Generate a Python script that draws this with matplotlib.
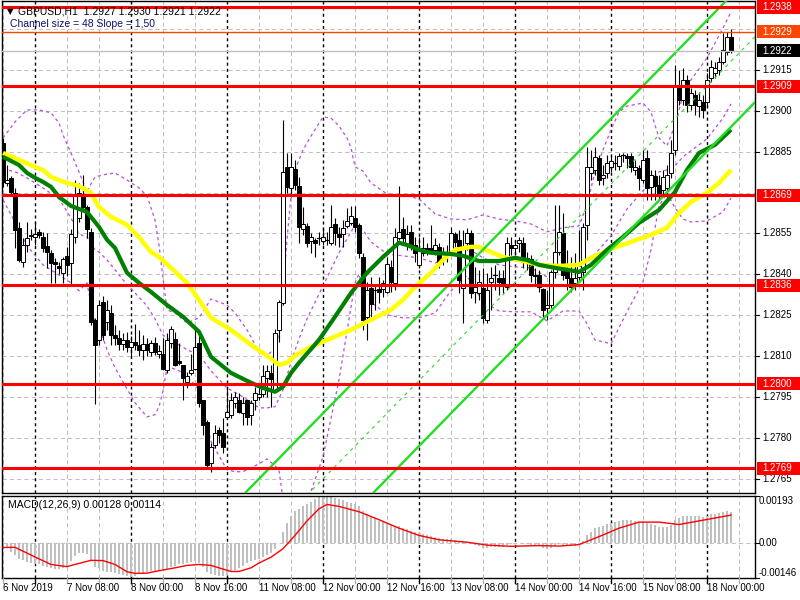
import numpy as np
import matplotlib.pyplot as plt
import matplotlib.transforms as mtransforms
from matplotlib.patches import Rectangle
from matplotlib.lines import Line2D

plt.rcParams['font.family'] = ['Liberation Sans', 'DejaVu Sans']

# ---- candles GBPUSD H1, bar 0 = 6 Nov 16:00 ----
opens = [
    1.28882, 1.28735, 1.28754, 1.28699, 1.28571, 1.28446, 1.28508, 1.28541, 1.28537, 1.28556,
    1.28537, 1.28505, 1.28479, 1.28446, 1.28431, 1.28406, 1.28468, 1.28442, 1.28537, 1.28607,
    1.28691, 1.28647, 1.28556, 1.28234, 1.28160, 1.28300, 1.28226, 1.28259, 1.28178, 1.28168,
    1.28146, 1.28160, 1.28135, 1.28153, 1.28142, 1.28124, 1.28146, 1.28116, 1.28149, 1.28109,
    1.28109, 1.28050, 1.28149, 1.28164, 1.28083, 1.28069, 1.28006, 1.28039, 1.28054, 1.28149,
    1.27941, 1.27860, 1.27710, 1.27776, 1.27831, 1.27820, 1.27878, 1.27886, 1.27930, 1.27941,
    1.27893, 1.27941, 1.27886, 1.27941, 1.27951, 1.27962, 1.28021, 1.28039, 1.27977, 1.28197,
    1.28296, 1.28794, 1.28717, 1.28787, 1.28724, 1.28567, 1.28578, 1.28523, 1.28527, 1.28534,
    1.28523, 1.28527, 1.28516, 1.28585, 1.28548, 1.28548, 1.28578, 1.28589, 1.28607, 1.28581,
    1.28464, 1.28245, 1.28351, 1.28343, 1.28347, 1.28347, 1.28336, 1.28428, 1.28369, 1.28534,
    1.28567, 1.28508, 1.28556, 1.28508, 1.28435, 1.28479, 1.28497, 1.28497, 1.28490, 1.28501,
    1.28457, 1.28468, 1.28483, 1.28548, 1.28527, 1.28351, 1.28516, 1.28552, 1.28336, 1.28332,
    1.28351, 1.28234, 1.28373, 1.28398, 1.28387, 1.28387, 1.28354, 1.28508, 1.28497, 1.28516,
    1.28516, 1.28446, 1.28457, 1.28398, 1.28398, 1.28347, 1.28277, 1.28288, 1.28409, 1.28482,
    1.28552, 1.28417, 1.28387, 1.28369, 1.28391, 1.28409, 1.28581, 1.28772, 1.28783, 1.28827,
    1.28754, 1.28772, 1.28794, 1.28809, 1.28798, 1.28838, 1.28834, 1.28834, 1.28783, 1.28790,
    1.28746, 1.28827, 1.28721, 1.28761, 1.28728, 1.28710, 1.28717, 1.28772, 1.28856, 1.29094,
    1.29039, 1.29113, 1.29021, 1.29058, 1.29017, 1.29032, 1.29032, 1.29120, 1.29138, 1.29149,
    1.29179, 1.29215, 1.29270]
highs = [
    1.28900, 1.28801, 1.28761, 1.28717, 1.28592, 1.28534, 1.28592, 1.28567, 1.28596, 1.28567,
    1.28556, 1.28552, 1.28490, 1.28461, 1.28446, 1.28464, 1.28501, 1.28567, 1.28746, 1.28735,
    1.28765, 1.28655, 1.28571, 1.28241, 1.28307, 1.28321, 1.28307, 1.28288, 1.28215, 1.28197,
    1.28186, 1.28190, 1.28175, 1.28219, 1.28197, 1.28178, 1.28168, 1.28160, 1.28171, 1.28142,
    1.28168, 1.28186, 1.28211, 1.28190, 1.28149, 1.28069, 1.28043, 1.28109, 1.28201, 1.28197,
    1.27941, 1.27867, 1.27783, 1.27849, 1.27842, 1.27875, 1.27988, 1.27966, 1.27970, 1.27966,
    1.27951, 1.27941, 1.27941, 1.27988, 1.27988, 1.28069, 1.28069, 1.28069, 1.28201, 1.28307,
    1.28966, 1.28845, 1.28845, 1.28820, 1.28757, 1.28647, 1.28589, 1.28552, 1.28534, 1.28556,
    1.28574, 1.28556, 1.28655, 1.28607, 1.28574, 1.28600, 1.28644, 1.28651, 1.28651, 1.28589,
    1.28479, 1.28373, 1.28391, 1.28362, 1.28391, 1.28380, 1.28464, 1.28453, 1.28571, 1.28724,
    1.28611, 1.28581, 1.28581, 1.28537, 1.28537, 1.28537, 1.28516, 1.28581, 1.28534, 1.28516,
    1.28501, 1.28508, 1.28574, 1.28556, 1.28563, 1.28563, 1.28571, 1.28563, 1.28428, 1.28417,
    1.28424, 1.28406, 1.28428, 1.28435, 1.28417, 1.28417, 1.28537, 1.28537, 1.28527, 1.28537,
    1.28537, 1.28482, 1.28472, 1.28424, 1.28417, 1.28351, 1.28343, 1.28417, 1.28655, 1.28655,
    1.28625, 1.28490, 1.28464, 1.28479, 1.28563, 1.28589, 1.28867, 1.28856, 1.28867, 1.28838,
    1.28801, 1.28838, 1.28838, 1.28838, 1.28845, 1.28845, 1.28845, 1.28845, 1.28820, 1.28801,
    1.28856, 1.28856, 1.28783, 1.28783, 1.28765, 1.28783, 1.28801, 1.28893, 1.29168, 1.29149,
    1.29157, 1.29131, 1.29083, 1.29076, 1.29069, 1.29058, 1.29138, 1.29186, 1.29179, 1.29197,
    1.29285, 1.29288, 1.29300]
lows = [
    1.28721, 1.28724, 1.28695, 1.28497, 1.28446, 1.28428, 1.28482, 1.28527, 1.28508, 1.28534,
    1.28482, 1.28424, 1.28369, 1.28369, 1.28402, 1.28369, 1.28395, 1.28358, 1.28516, 1.28592,
    1.28636, 1.28534, 1.28215, 1.27926, 1.28142, 1.28160, 1.28197, 1.28142, 1.28142, 1.28124,
    1.28124, 1.28116, 1.28094, 1.28124, 1.28102, 1.28087, 1.28102, 1.28102, 1.28105, 1.28094,
    1.28050, 1.28039, 1.28131, 1.28065, 1.28069, 1.27941, 1.27984, 1.28032, 1.28050, 1.27915,
    1.27812, 1.27691, 1.27677, 1.27765, 1.27783, 1.27746, 1.27875, 1.27875, 1.27911, 1.27893,
    1.27849, 1.27849, 1.27849, 1.27904, 1.27941, 1.27951, 1.27951, 1.27915, 1.27970, 1.28153,
    1.28288, 1.28699, 1.28684, 1.28710, 1.28516, 1.28545, 1.28501, 1.28479, 1.28464, 1.28508,
    1.28508, 1.28508, 1.28508, 1.28508, 1.28501, 1.28501, 1.28571, 1.28581, 1.28556, 1.28461,
    1.28197, 1.28160, 1.28245, 1.28270, 1.28296, 1.28318, 1.28332, 1.28336, 1.28343, 1.28527,
    1.28519, 1.28490, 1.28490, 1.28446, 1.28424, 1.28468, 1.28472, 1.28479, 1.28472, 1.28424,
    1.28435, 1.28446, 1.28472, 1.28501, 1.28332, 1.28222, 1.28490, 1.28314, 1.28296, 1.28307,
    1.28222, 1.28222, 1.28270, 1.28343, 1.28325, 1.28332, 1.28343, 1.28472, 1.28472, 1.28482,
    1.28424, 1.28417, 1.28373, 1.28362, 1.28336, 1.28241, 1.28234, 1.28277, 1.28387, 1.28472,
    1.28380, 1.28343, 1.28336, 1.28343, 1.28373, 1.28343, 1.28527, 1.28746, 1.28765, 1.28728,
    1.28728, 1.28754, 1.28776, 1.28783, 1.28783, 1.28812, 1.28790, 1.28776, 1.28765, 1.28710,
    1.28735, 1.28673, 1.28673, 1.28673, 1.28673, 1.28691, 1.28673, 1.28754, 1.28838, 1.29021,
    1.29021, 1.28995, 1.29003, 1.28984, 1.28977, 1.28973, 1.29017, 1.29105, 1.29120, 1.29131,
    1.29171, 1.29204, 1.29210]
closes = [
    1.28739, 1.28746, 1.28702, 1.28563, 1.28453, 1.28508, 1.28534, 1.28545, 1.28548, 1.28545,
    1.28497, 1.28482, 1.28442, 1.28439, 1.28424, 1.28457, 1.28435, 1.28548, 1.28688, 1.28699,
    1.28647, 1.28567, 1.28226, 1.28142, 1.28288, 1.28178, 1.28270, 1.28178, 1.28168, 1.28146,
    1.28160, 1.28135, 1.28153, 1.28142, 1.28124, 1.28146, 1.28124, 1.28149, 1.28116, 1.28120,
    1.28054, 1.28160, 1.28201, 1.28069, 1.28076, 1.28021, 1.28028, 1.28050, 1.28135, 1.27929,
    1.27849, 1.27702, 1.27768, 1.27820, 1.27812, 1.27768, 1.27896, 1.27941, 1.27951, 1.27896,
    1.27930, 1.27878, 1.27930, 1.27966, 1.27962, 1.28028, 1.28047, 1.28017, 1.28186, 1.28300,
    1.28776, 1.28721, 1.28794, 1.28728, 1.28574, 1.28585, 1.28516, 1.28537, 1.28516, 1.28534,
    1.28537, 1.28527, 1.28574, 1.28552, 1.28537, 1.28571, 1.28596, 1.28614, 1.28574, 1.28479,
    1.28234, 1.28343, 1.28292, 1.28343, 1.28336, 1.28369, 1.28439, 1.28373, 1.28537, 1.28556,
    1.28534, 1.28548, 1.28508, 1.28479, 1.28490, 1.28497, 1.28490, 1.28486, 1.28508, 1.28446,
    1.28479, 1.28479, 1.28552, 1.28519, 1.28380, 1.28501, 1.28552, 1.28332, 1.28354, 1.28373,
    1.28241, 1.28343, 1.28387, 1.28398, 1.28373, 1.28362, 1.28516, 1.28497, 1.28508, 1.28527,
    1.28446, 1.28461, 1.28398, 1.28395, 1.28354, 1.28270, 1.28288, 1.28409, 1.28482, 1.28556,
    1.28398, 1.28387, 1.28354, 1.28387, 1.28431, 1.28574, 1.28794, 1.28794, 1.28831, 1.28746,
    1.28765, 1.28809, 1.28816, 1.28809, 1.28834, 1.28838, 1.28827, 1.28794, 1.28794, 1.28754,
    1.28820, 1.28717, 1.28765, 1.28724, 1.28699, 1.28757, 1.28765, 1.28845, 1.29094, 1.29039,
    1.29113, 1.29021, 1.29065, 1.29021, 1.29039, 1.29003, 1.29113, 1.29160, 1.29157, 1.29179,
    1.29222, 1.29270, 1.29220]

# moving averages (bar index, price)
yellow_idx = [0, 4, 8, 10, 12, 16, 19, 22, 24, 27, 31, 34, 37, 39, 42, 46, 49, 52, 57, 62,
              66, 69, 71, 73, 77, 81, 87, 92, 97, 100, 103, 107, 110, 113, 117, 119, 122, 125,
              129, 134, 139, 144, 147, 152, 157, 162, 166, 169, 172, 176, 179, 182]
yellow_val = [1.28845, 1.28820, 1.28794, 1.28783, 1.28757, 1.28735, 1.28724, 1.28699, 1.28647,
              1.28611, 1.28582, 1.28537, 1.28482, 1.28464, 1.28424, 1.28369, 1.28307, 1.28241,
              1.28197, 1.28142, 1.28102, 1.28069, 1.28076, 1.28102, 1.28135, 1.28160, 1.28197,
              1.28234, 1.28270, 1.28307, 1.28354, 1.28406, 1.28453, 1.28490, 1.28501, 1.28501,
              1.28482, 1.28464, 1.28453, 1.28435, 1.28431, 1.28435, 1.28461, 1.28494, 1.28519,
              1.28545, 1.28571, 1.28625, 1.28666, 1.28699, 1.28735, 1.28783]
green_idx = [0, 4, 6, 8, 10, 12, 14, 17, 19, 21, 24, 26, 28, 31, 34, 37, 41, 45, 49, 52,
             57, 62, 65, 68, 70, 72, 74, 79, 83, 87, 91, 95, 99, 101, 104, 107, 112, 115, 119,
             124, 128, 131, 134, 138, 141, 144, 147, 151, 155, 159, 164, 168, 171, 174, 178, 182]
green_val = [1.28831, 1.28801, 1.28772, 1.28754, 1.28739, 1.28721, 1.28684, 1.28651, 1.28640,
             1.28629, 1.28574, 1.28527, 1.28497, 1.28406, 1.28369, 1.28336, 1.28288, 1.28245,
             1.28190, 1.28098, 1.28039, 1.28003, 1.27984, 1.27970, 1.27988, 1.28039, 1.28076,
             1.28160, 1.28245, 1.28332, 1.28406, 1.28464, 1.28516, 1.28508, 1.28490, 1.28479,
             1.28475, 1.28468, 1.28449, 1.28449, 1.28461, 1.28453, 1.28435, 1.28424, 1.28417,
             1.28409, 1.28435, 1.28490, 1.28537, 1.28589, 1.28636, 1.28702, 1.28783, 1.28845,
             1.28875, 1.28930]

# Bollinger bands (20) - upper / middle / lower
bb_up_idx = [0, 3, 6, 9, 12, 14, 15, 17, 19, 21, 22, 23, 25, 28, 31, 34, 36, 38, 39, 40,
             41, 43, 46, 49, 52, 56, 58, 61, 64, 66, 68, 69, 70, 71, 72, 73, 75, 77, 80, 82,
             84, 86, 87, 88, 90, 92, 96, 100, 104, 108, 112, 116, 120, 124, 128, 132, 136,
             140, 144, 146, 148, 150, 152, 154, 156, 160, 162, 164, 166, 168, 170, 172, 176,
             180, 182]
bb_up_val = [1.28900, 1.28959, 1.29003, 1.29003, 1.28992, 1.28955, 1.28911, 1.28845, 1.28776,
             1.28702, 1.28732, 1.28757, 1.28765, 1.28772, 1.28746, 1.28717, 1.28688, 1.28600,
             1.28508, 1.28387, 1.28270, 1.28259, 1.28222, 1.28241, 1.28310, 1.28288, 1.28259,
             1.28197, 1.28116, 1.28102, 1.28131, 1.28168, 1.28343, 1.28527, 1.28691, 1.28783,
             1.28856, 1.28907, 1.28977, 1.28973, 1.28944, 1.28900, 1.28864, 1.28794, 1.28779,
             1.28735, 1.28695, 1.28691, 1.28677, 1.28622, 1.28603, 1.28600, 1.28618, 1.28603,
             1.28596, 1.28585, 1.28556, 1.28571, 1.28578, 1.28655, 1.28776, 1.28856, 1.28930,
             1.28995, 1.29017, 1.29028, 1.28995, 1.28900, 1.28871, 1.28948, 1.29058, 1.29113,
             1.29193, 1.29303, 1.29362]
bb_mid_idx = [0, 3, 6, 10, 14, 17, 19, 21, 22, 23, 24, 26, 28, 30, 33, 36, 38, 40, 42, 44,
              46, 49, 52, 56, 60, 64, 66, 68, 70, 72, 74, 76, 80, 84, 88, 90, 92, 96, 100, 104,
              108, 112, 116, 120, 124, 128, 132, 136, 140, 144, 146, 148, 152, 156, 160, 162,
              164, 166, 168, 170, 172, 176, 180, 182]
bb_mid_val = [1.28787, 1.28776, 1.28754, 1.28717, 1.28677, 1.28607, 1.28548, 1.28537, 1.28512,
              1.28490, 1.28482, 1.28453, 1.28417, 1.28380, 1.28332, 1.28285, 1.28237, 1.28178,
              1.28157, 1.28142, 1.28124, 1.28105, 1.28047, 1.27984, 1.27951, 1.27911, 1.27911,
              1.27915, 1.27977, 1.28080, 1.28164, 1.28237, 1.28358, 1.28479, 1.28581, 1.28563,
              1.28519, 1.28475, 1.28468, 1.28461, 1.28442, 1.28472, 1.28497, 1.28461, 1.28435,
              1.28428, 1.28424, 1.28391, 1.28417, 1.28420, 1.28446, 1.28475, 1.28541, 1.28640,
              1.28706, 1.28743, 1.28776, 1.28783, 1.28798, 1.28831, 1.28853, 1.28897, 1.28973,
              1.29025]
bb_lo_idx = [0, 3, 6, 10, 14, 17, 19, 21, 22, 23, 24, 26, 28, 30, 33, 36, 38, 39, 40, 41,
             42, 44, 46, 49, 52, 56, 58, 60, 64, 66, 68, 69, 70, 71, 72, 76, 80, 84, 88, 89,
             90, 92, 96, 100, 104, 108, 112, 116, 120, 124, 128, 132, 136, 140, 144, 146, 148,
             152, 156, 160, 162, 164, 166, 168, 170, 172, 176, 180, 182]
bb_lo_val = [1.28673, 1.28592, 1.28505, 1.28435, 1.28398, 1.28369, 1.28340, 1.28369, 1.28292,
             1.28226, 1.28211, 1.28124, 1.28058, 1.28006, 1.27930, 1.27878, 1.27886, 1.27915,
             1.27973, 1.28058, 1.28058, 1.28047, 1.28028, 1.27977, 1.27787, 1.27684, 1.27677,
             1.27677, 1.27706, 1.27724, 1.27699, 1.27684, 1.27574, 1.27516, 1.27461, 1.27563,
             1.27732, 1.28014, 1.28369, 1.28402, 1.28343, 1.28300, 1.28252, 1.28241, 1.28241,
             1.28259, 1.28340, 1.28395, 1.28300, 1.28266, 1.28263, 1.28263, 1.28230, 1.28266,
             1.28266, 1.28219, 1.28160, 1.28146, 1.28263, 1.28373, 1.28490, 1.28651, 1.28699,
             1.28644, 1.28603, 1.28592, 1.28596, 1.28629, 1.28680]

# MACD(12,26,9), in units of 0.001
macd_hist = [
    -0.18, -0.23, -0.37, -0.51, -0.66, -0.73, -0.80, -0.85, -0.87, -0.90,
    -0.95, -0.99, -1.04, -1.09, -1.09, -1.05, -0.95, -0.76, -0.56, -0.44,
    -0.41, -0.47, -0.76, -1.02, -1.04, -1.16, -1.20, -1.23, -1.27, -1.30,
    -1.34, -1.37, -1.40, -1.37, -1.30, -1.26, -1.22, -1.19, -1.16, -1.13,
    -1.13, -1.09, -0.99, -0.95, -0.90, -0.87, -0.85, -0.80, -0.77, -0.85,
    -1.02, -1.20, -1.30, -1.33, -1.37, -1.39, -1.34, -1.23, -1.13, -1.04,
    -0.95, -0.85, -0.77, -0.73, -0.66,
    -0.60, -0.50, -0.42, -0.25, 0.00, 0.45, 0.80, 1.10, 1.30, 1.40,
    1.50, 1.60, 1.70, 1.80, 1.90, 1.93, 1.90, 1.88, 1.85, 1.80,
    1.75, 1.70, 1.65, 1.60, 1.50, 1.30, 1.20, 1.10, 1.00, 0.90,
    0.85, 0.80, 0.72, 0.70, 0.68, 0.62, 0.55, 0.50, 0.45, 0.40,
    0.35, 0.30, 0.27, 0.24, 0.20, 0.17, 0.15, 0.14, 0.12, 0.05,
    0.02, 0.03, -0.05, -0.10, -0.12, -0.20, -0.20, -0.18, -0.16, -0.16,
    -0.16, -0.08, -0.05, -0.03, 0.00, -0.03, -0.04, -0.08, -0.10, -0.14,
    -0.22, -0.25, -0.20, -0.12, -0.02, -0.08, -0.12, -0.15, -0.14, -0.10,
    0.05, 0.30, 0.45, 0.60, 0.65, 0.70, 0.76, 0.82, 0.86, 0.90,
    0.92, 0.93, 0.92, 0.91, 0.87, 0.88, 0.80, 0.78, 0.72, 0.65,
    0.65, 0.65, 0.72, 0.95, 1.02, 1.12, 1.10, 1.12, 1.10, 1.10,
    1.06, 1.12, 1.18, 1.20, 1.23, 1.26, 1.30, 1.28]
signal_idx = [0, 3, 8, 12, 16, 18, 22, 25, 28, 31, 33, 36, 39, 43, 46, 49, 52, 54, 57, 59,
              62, 64, 67, 70, 73, 76, 79, 81, 84, 89, 94, 99, 104, 109, 116, 121, 127, 134,
              139, 144, 149, 154, 159, 164, 169, 174, 179, 182]
signal_val = [-0.20, -0.19, -0.59, -0.90, -0.99, -0.90, -0.73, -0.74, -0.90, -1.20, -1.27,
              -1.26, -1.16, -1.04, -0.94, -0.90, -0.94, -1.04, -1.19, -1.19, -1.04, -0.84,
              -0.60, -0.25, 0.30, 0.90, 1.40, 1.58, 1.50, 1.28, 0.95, 0.60, 0.30, 0.12, 0.02,
              -0.10, -0.15, -0.12, -0.14, -0.08, 0.25, 0.60, 0.85, 0.85, 0.75, 0.90, 1.05, 1.14]

# levels and labels
red_levels = [1.2938, 1.2909, 1.2869, 1.2836, 1.2800, 1.2769]
ask_level = 1.2929
bid_level = 1.2922
price_ticks = [1.2765, 1.2780, 1.2795, 1.2810, 1.2825, 1.2840, 1.2855, 1.2870, 1.2885,
               1.2900, 1.2915, 1.2930]
price_labels = [1.2765, 1.2780, 1.2795, 1.2810, 1.2825, 1.2840, 1.2855, 1.2885, 1.2900, 1.2915]
date_bars = [0, 16, 32, 48, 64, 80, 96, 112, 128, 144, 160, 176]
date_labels = ['6 Nov 2019', '7 Nov 08:00', '8 Nov 00:00', '8 Nov 16:00', '11 Nov 08:00',
               '12 Nov 00:00', '12 Nov 16:00', '13 Nov 08:00', '14 Nov 00:00', '14 Nov 16:00',
               '15 Nov 08:00', '18 Nov 00:00']
day_bars = [8, 32, 56, 80, 104, 128, 152, 176]

# regression channel: upper line anchor, slope 1.5 pips/bar, width 48 pips
chan_bar0 = 62
chan_upper0 = 1.27621
chan_slope = 0.00015
chan_size = 0.0048

W, H = 800, 600
fig = plt.figure(figsize=(8, 6), dpi=100)
fig.patch.set_facecolor('white')


def px_box(x0, y0, x1, y1):
    return [x0 / W, 1 - y1 / H, (x1 - x0) / W, (y1 - y0) / H]


ax = fig.add_axes(px_box(2, 1, 755, 493))
axm = fig.add_axes(px_box(2, 496, 755, 578))
xmin, xmax = -0.25, 188
ax.set_xlim(xmin, xmax)
ax.set_ylim(1.27599, 1.29402)
axm.set_xlim(xmin, xmax)
axm.set_ylim(-1.46, 1.93)

grid_bars = list(range(0, 189, 8))
for a in (ax, axm):
    for s in a.spines.values():
        s.set_color('black')
        s.set_linewidth(1)
    a.set_xticks([])
    a.set_yticks([])
    for g in grid_bars:
        if g in day_bars:
            a.axvline(g, color='black', lw=1, dashes=(2.2, 2.2), zorder=1)
        else:
            a.axvline(g, color='#c0c0c0', lw=0.75, dashes=(4, 3), zorder=0)

for p in price_ticks:
    ax.axhline(p, color='#c0c0c0', lw=0.75, dashes=(4, 3), zorder=0)

# bollinger bands (drawn under the candles)
for bi, bv in [(bb_up_idx, bb_up_val), (bb_mid_idx, bb_mid_val), (bb_lo_idx, bb_lo_val)]:
    ax.plot(bi, bv, color='#b84fd8', lw=0.9, dashes=(2.5, 2.5), zorder=2)

# candles
n = len(closes)
for i in range(n):
    o, h, l, c = opens[i], highs[i], lows[i], closes[i]
    ax.plot([i, i], [l, h], color='black', lw=0.8, zorder=3, solid_capstyle='butt')
    lo, hi = min(o, c), max(o, c)
    if hi - lo < 0.00002:
        ax.plot([i - 0.4, i + 0.4], [o, o], color='black', lw=0.8, zorder=3)
    else:
        ax.add_patch(Rectangle((i - 0.38, lo), 0.76, hi - lo,
                               facecolor='white' if c > o else 'black',
                               edgecolor='black', lw=0.7, zorder=4))

# moving averages
ax.plot(yellow_idx, yellow_val, color='#ffff00', lw=3.2, zorder=5, solid_capstyle='butt')
ax.plot(green_idx, green_val, color='#008000', lw=3.0, zorder=6, solid_capstyle='butt')

# channel
cx = np.array([xmin, xmax])
up = chan_upper0 + chan_slope * (cx - chan_bar0)
ax.plot(cx, up, color='#22dd22', lw=1.7, zorder=7)
ax.plot(cx, up - chan_size, color='#22dd22', lw=1.7, zorder=7)
ax.plot(cx, up - chan_size / 2, color='#22dd22', lw=0.8, dashes=(3, 4), zorder=7)

# horizontal levels
for p in red_levels:
    ax.axhline(p, color='#ff0000', lw=2.2, zorder=8)
ax.axhline(ask_level, color='#ff4500', lw=1.0, zorder=8)
ax.axhline(bid_level, color='#c0c0c0', lw=1.0, zorder=8)

# MACD
axm.axhline(0, color='#c0c0c0', lw=0.75, dashes=(4, 3), zorder=1)
axm.bar(np.arange(len(macd_hist)), macd_hist, width=0.62, color='#c0c0c0', zorder=2)
axm.plot(signal_idx, signal_val, color='#ff0000', lw=1.0, zorder=3)

# right price scale
tr = mtransforms.blended_transform_factory(fig.transFigure, ax.transData)
fs = 7
for p in price_labels:
    ax.text(762 / W, p, f'{p:.4f}', transform=tr, fontsize=fs, va='center', ha='left')
    ax.add_line(Line2D([755 / W, 759 / W], [p, p], transform=tr, color='black', lw=0.8,
                       clip_on=False))
box_h = 0.00048
boxes = [(p, '#ff0000') for p in red_levels] + [(ask_level, '#ff4500'), (bid_level, '#000000')]
for p, col in boxes:
    ax.add_patch(Rectangle((757 / W, p - box_h / 2), 43 / W, box_h, transform=tr,
                           facecolor=col, edgecolor='none', clip_on=False, zorder=10))
    ax.text(762 / W, p, f'{p:.4f}', transform=tr, fontsize=fs, va='center', ha='left',
            color='white', zorder=11)

trm = mtransforms.blended_transform_factory(fig.transFigure, axm.transData)
for v, txt in [(1.93, '0.00193'), (0.0, '0.00'), (-1.46, '-0.00146')]:
    va = 'top' if v > 1 else ('bottom' if v < -1 else 'center')
    axm.text(759 / W, v, txt, transform=trm, fontsize=fs, va=va, ha='left')
    axm.add_line(Line2D([755 / W, 759 / W], [v, v], transform=trm, color='black', lw=0.8,
                        clip_on=False))

# time scale
for g in grid_bars:
    xp = 3 + 4 * g
    col = 'black' if g in day_bars else '#b0b0b0'
    fig.add_artist(Line2D([xp / W, xp / W], [1 - 578 / H, 1 - 583 / H], color=col, lw=1))
for b, txt in zip(date_bars, date_labels):
    fig.text((3 + 4 * b) / W, 1 - 588 / H, txt, fontsize=fs, va='center', ha='left')

# header texts
fig.text(7 / W, 1 - 12 / H, '\u25bc', fontsize=6, va='center', ha='left',
         family=['DejaVu Sans'])
fig.text(18 / W, 1 - 12 / H, 'GBPUSD,H1  1.2927 1.2930 1.2921 1.2922', fontsize=7.5,
         va='center', ha='left')
fig.text(10 / W, 1 - 24 / H, 'Channel size = 48 Slope = 1,50', fontsize=7.5,
         va='center', ha='left', color='#10106a')
fig.text(8 / W, 1 - 505 / H, 'MACD(12,26,9) 0.00128 0.00114', fontsize=7.5,
         va='center', ha='left')

fig.savefig('out.png', dpi=100)
